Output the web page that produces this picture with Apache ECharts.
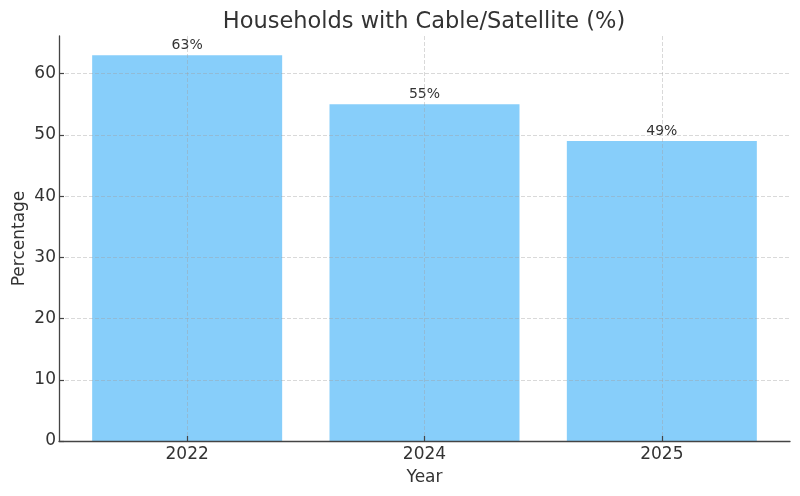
<!DOCTYPE html>
<html>
<head>
<meta charset="utf-8">
<script src="https://cdn.jsdelivr.net/npm/echarts@6/dist/echarts.min.js"></script>
<style>
html,body{margin:0;padding:0;background:#fff;}
#chart{width:800px;height:496px;}
</style>
</head>
<body>
<div id="chart"></div>
<script>
const categories = ['2022', '2024', '2025'];
const values = [63, 55, 49];
const xPositions = [0, 1, 2];
const yTicks = [0, 10, 20, 30, 40, 50, 60];

const chart = echarts.init(document.getElementById('chart'), null, {renderer: 'canvas'});
const font = 'DejaVu Sans';
const barData = xPositions.map((x, i) => [x, values[i]]);

chart.setOption({
  animation: false,
  backgroundColor: '#ffffff',
  title: {
    text: 'Households with Cable/Satellite (%)',
    left: 419, top: 6, textAlign: 'center',
    textStyle: {fontFamily: font, fontSize: 22.5, fontWeight: 'normal', color: '#333333'}
  },
  grid: {left: 59, right: 10, top: 36, bottom: 55, containLabel: false, outerBoundsMode: 'none'},
  xAxis: {
    type: 'value', min: -0.54, max: 2.54, z: 3,
    name: 'Year', nameLocation: 'middle', nameGap: 28, nameMoveOverlap: false,
    nameTextStyle: {fontFamily: font, fontSize: 17, color: '#333333'},
    axisLine: {show: true, onZero: false, lineStyle: {color: '#444444', width: 1.3}},
    axisTick: {show: true, inside: true, customValues: xPositions, length: 5, lineStyle: {color: '#444444', width: 1.2}},
    axisLabel: {customValues: xPositions, fontFamily: font, fontSize: 17, color: '#333333', margin: 5,
      formatter: v => categories[Math.round(v)]},
    splitLine: {show: true, lineStyle: {color: 'rgba(160,160,160,0.5)', type: [4, 2], width: 0.8}}
  },
  yAxis: {
    type: 'value', min: 0, max: 66.15, z: 3,
    name: 'Percentage', nameLocation: 'middle', nameGap: 31, nameRotate: 90, nameMoveOverlap: false,
    nameTextStyle: {fontFamily: font, fontSize: 17, color: '#333333'},
    axisLine: {show: true, onZero: false, lineStyle: {color: '#444444', width: 1.3}},
    axisTick: {show: true, inside: true, customValues: yTicks, length: 5, lineStyle: {color: '#444444', width: 1.2}},
    axisLabel: {customValues: yTicks, fontFamily: font, fontSize: 17, color: '#333333', margin: 3},
    splitLine: {show: true, lineStyle: {color: 'rgba(160,160,160,0.5)', type: [4, 2], width: 0.8}}
  },
  series: [{
    type: 'bar',
    data: barData,
    barWidth: 190,
    itemStyle: {color: '#87CEFA'},
    label: {show: true, position: 'top', distance: 3, fontFamily: font, fontSize: 14, color: '#333333',
      formatter: p => p.value[1] + '%'}
  }]
});
</script>
</body>
</html>
